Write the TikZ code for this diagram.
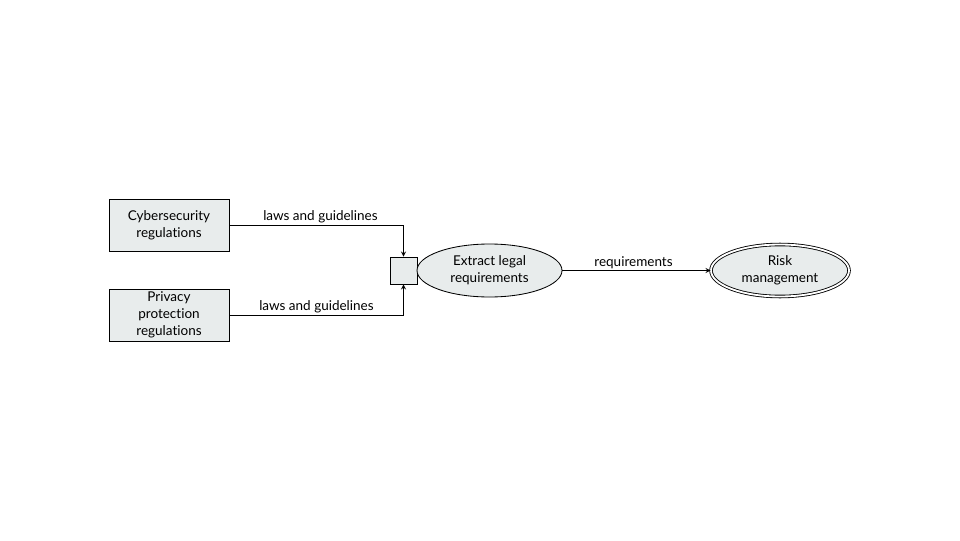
\documentclass[tikz,border=0pt]{standalone}
\usepackage{fontspec}
\setmainfont{Lato}[Ligatures=NoCommon]
\usepackage{tikz}
\usetikzlibrary{shapes.geometric}
\definecolor{boxfill}{HTML}{E8ECEC}

\begin{document}
\begin{tikzpicture}
[>=stealth,line width=0.6pt,font=\fontsize{9.6}{12}\selectfont,
 entity/.style={draw,fill=boxfill,minimum width=3cm,minimum height=1.3cm,align=center,inner sep=0pt},
 joinbox/.style={draw,fill=boxfill,minimum size=0.675cm,inner sep=0pt},
 process/.style={draw,ellipse,fill=boxfill,minimum width=3.625cm,minimum height=1.325cm,align=center,inner sep=0pt},
 store/.style={ellipse,double,double distance=1.3pt,draw,fill=boxfill,minimum width=3.45cm,minimum height=1.3cm,align=center,inner sep=0pt},
 flow/.style={->,shorten >=0pt},
 flowlabel/.style={above,inner sep=1.2pt},]

%Canvas
\useasboundingbox (0,0) rectangle (24,13.5);

%Sources
\node (cyber) at (4.225,7.875)[entity] {Cybersecurity\\regulations};
\node (privacy) at (4.225,5.625)[entity] {Privacy\\protection\\regulations};

%Join and process
\node (merge) at (10.0875,6.7375)[joinbox] {};
\node (extract) at (12.2375,6.7375)[process] {Extract legal\\requirements};

%Sink
\node (risk) at (19.5,6.7375)[store] {Risk\\management};

%Flows
\draw[flow] (cyber.east) -| node[pos=0.25,flowlabel,xshift=0.1cm] {laws and guidelines} (merge.north);
\draw[flow] (privacy.east) -| node[pos=0.25,flowlabel] {laws and guidelines} (merge.south);
\draw[flow] (extract.east) -- node[flowlabel,xshift=-0.075cm] {requirements} (risk.west);

\end{tikzpicture}
\end{document}
